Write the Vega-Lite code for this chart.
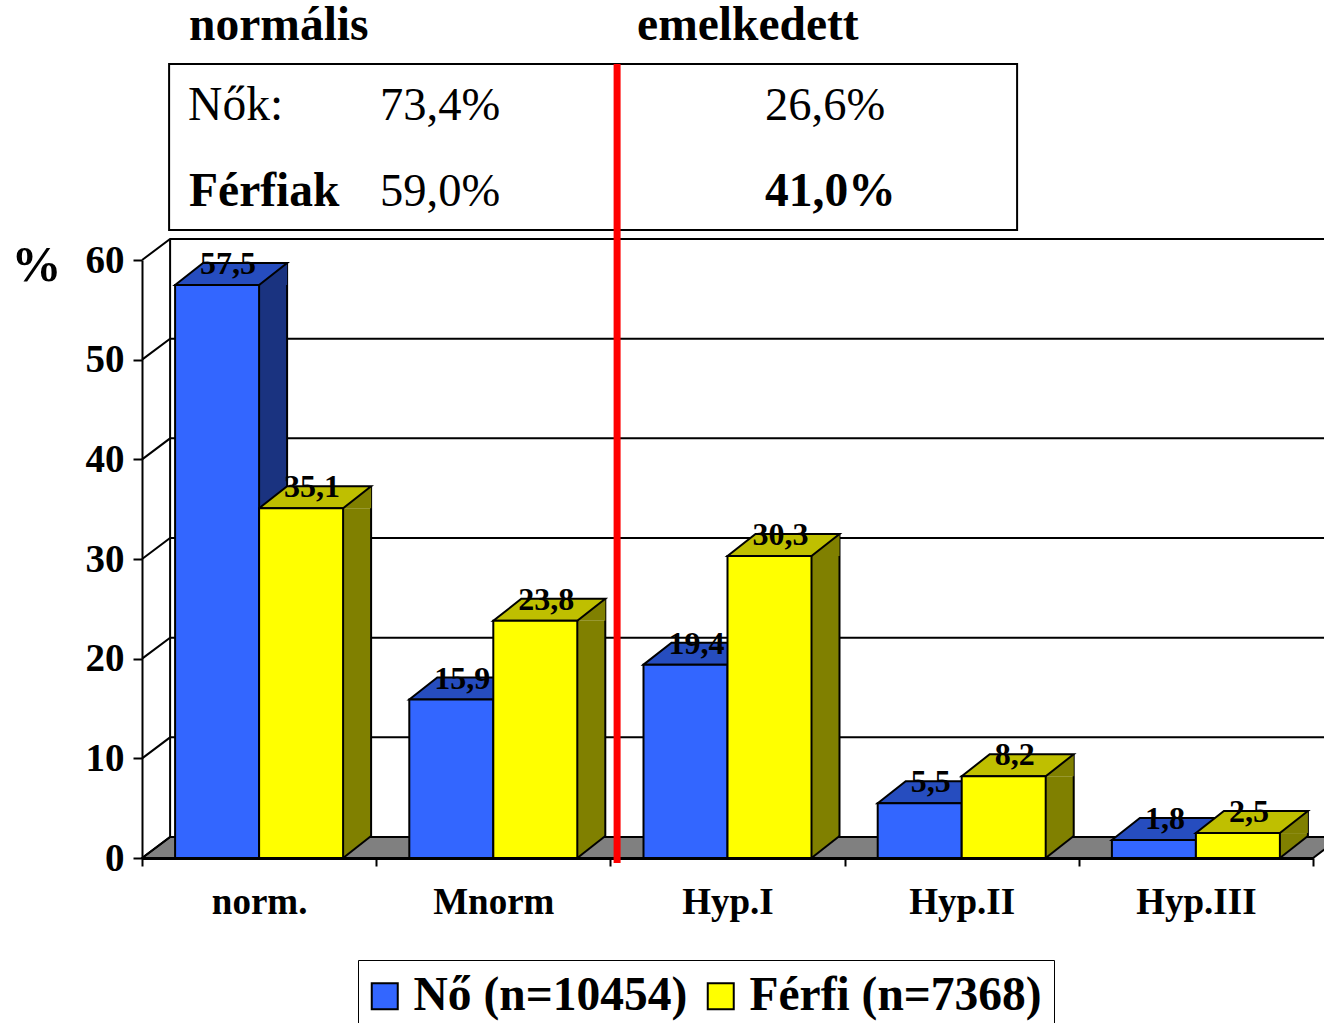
{
"$schema":"https://vega.github.io/schema/vega-lite/v6.json",
"width":1171,"height":598,
"autosize":{"type":"none"},
"padding":{"left":142,"top":260,"right":11,"bottom":165},
"background":"white",
"config":{"font":"Liberation Serif","view":{"stroke":null},"text":{"font":"Liberation Serif","fontSize":47.5,"color":"#000","align":"left","baseline":"middle"}},
"datasets":{
"bars":[
{"cat":"norm.","series":"Nő (n=10454)","value":57.5,"label":"57,5"},
{"cat":"Mnorm","series":"Nő (n=10454)","value":15.9,"label":"15,9"},
{"cat":"Hyp.I","series":"Nő (n=10454)","value":19.4,"label":"19,4"},
{"cat":"Hyp.II","series":"Nő (n=10454)","value":5.5,"label":"5,5"},
{"cat":"Hyp.III","series":"Nő (n=10454)","value":1.8,"label":"1,8"},
{"cat":"norm.","series":"Férfi (n=7368)","value":35.1,"label":"35,1"},
{"cat":"Mnorm","series":"Férfi (n=7368)","value":23.8,"label":"23,8"},
{"cat":"Hyp.I","series":"Férfi (n=7368)","value":30.3,"label":"30,3"},
{"cat":"Hyp.II","series":"Férfi (n=7368)","value":8.2,"label":"8,2"},
{"cat":"Hyp.III","series":"Férfi (n=7368)","value":2.5,"label":"2,5"}
],
"ticks":[{"tick":0},{"tick":10},{"tick":20},{"tick":30},{"tick":40},{"tick":50},{"tick":60}]
},
"resolve":{"scale":{"fill":"independent"}},
"layer":[
{"data":{"values":[{"a":1}]},
 "mark":{"type":"point","filled":true,"opacity":1,"size":4,"fill":"#808080","stroke":"#000","strokeWidth":2,"shape":"M-117,0 L-89,-21 L1082,-21 L1054,0 Z"},
 "encoding":{"x":{"datum":"norm.","type":"nominal"},"y":{"datum":0,"type":"quantitative"}}},
{"data":{"name":"ticks"},
 "mark":{"type":"point","filled":false,"opacity":1,"size":4,"stroke":"#000","strokeWidth":2,"shape":"M-117,0 L-89,-21 L1082,-21"},
 "encoding":{"x":{"datum":"norm.","type":"nominal"},"y":{"field":"tick","type":"quantitative"}}},
{"data":{"values":[{"a":1}]},
 "mark":{"type":"rule","stroke":"#000","strokeWidth":2,"xOffset":-89,"yOffset":-21,"y2Offset":-21},
 "encoding":{"x":{"datum":"norm.","type":"nominal"},"y":{"datum":0,"type":"quantitative"},"y2":{"datum":60}}},
{"data":{"name":"bars"},"transform":[{"filter":"datum.series=='Nő (n=10454)'"}],
 "mark":{"type":"bar","width":29,"fill":"#1A3380","xOffset":14,"y2Offset":-22},
 "encoding":{"x":{"field":"cat","type":"nominal"},"y":{"field":"value","type":"quantitative","stack":null},"y2":{"datum":0}}},
{"data":{"name":"bars"},"transform":[{"filter":"datum.series=='Nő (n=10454)'"}],
 "mark":{"type":"rule","stroke":"#000","strokeWidth":2,"xOffset":28,"yOffset":-22,"y2Offset":-22},
 "encoding":{"x":{"field":"cat","type":"nominal"},"y":{"field":"value","type":"quantitative","stack":null},"y2":{"datum":0}}},
{"data":{"name":"bars"},"transform":[{"filter":"datum.series=='Férfi (n=7368)'"}],
 "mark":{"type":"bar","width":29,"fill":"#808000","xOffset":98,"y2Offset":-22},
 "encoding":{"x":{"field":"cat","type":"nominal"},"y":{"field":"value","type":"quantitative","stack":null},"y2":{"datum":0}}},
{"data":{"name":"bars"},"transform":[{"filter":"datum.series=='Férfi (n=7368)'"}],
 "mark":{"type":"rule","stroke":"#000","strokeWidth":2,"xOffset":112,"yOffset":-22,"y2Offset":-22},
 "encoding":{"x":{"field":"cat","type":"nominal"},"y":{"field":"value","type":"quantitative","stack":null},"y2":{"datum":0}}},
{"data":{"name":"bars"},
 "encoding":{
  "x":{"field":"cat","type":"nominal","scale":{"type":"band","domain":["norm.","Mnorm","Hyp.I","Hyp.II","Hyp.III"],"paddingInner":0,"paddingOuter":0},
       "axis":{"title":null,"labelAngle":0,"labelAlign":"center","labelFontSize":37,"labelFontWeight":"bold","labelColor":"#000","labelPadding":36,"tickBand":"extent","tickSize":8,"tickWidth":2,"tickColor":"#000","domainColor":"#000","domainWidth":3}},
  "xOffset":{"field":"series","type":"nominal","scale":{"domain":["Nő (n=10454)","Férfi (n=7368)"],"paddingInner":0,"paddingOuter":0.394}},
  "y":{"field":"value","type":"quantitative","stack":null,"scale":{"domain":[0,60],"nice":false},
       "axis":{"title":"%","titleAngle":0,"titleX":-106,"titleY":5,"titleFontSize":50,"titleFontWeight":"bold","titleColor":"#000","titleAlign":"center","titleBaseline":"middle","values":[0,10,20,30,40,50,60],"grid":false,"labelFontSize":39,"labelFontWeight":"bold","labelColor":"#000","labelPadding":9,"tickSize":9,"tickWidth":2,"tickColor":"#000","domainColor":"#000","domainWidth":2}}
 },
 "resolve":{"scale":{"fill":"independent"}},
 "layer":[
  {"mark":{"type":"point","filled":true,"opacity":1,"size":4,"shape":"M42,0 L70,-22 L70,0 Z"},
   "encoding":{"fill":{"field":"series","type":"nominal","legend":null,"scale":{"domain":["Nő (n=10454)","Férfi (n=7368)"],"range":["#1A3380","#808000"]}}}},
  {"mark":{"type":"point","filled":true,"opacity":1,"size":4,"shape":"M42,0 L42,-22 L70,-22 Z"},
   "encoding":{"y":{"datum":0,"type":"quantitative"},"fill":{"field":"series","type":"nominal","legend":null,"scale":{"domain":["Nő (n=10454)","Férfi (n=7368)"],"range":["#1A3380","#808000"]}}}},
  {"mark":{"type":"point","filled":false,"opacity":1,"size":4,"stroke":"#000","strokeWidth":2,"shape":"M42,0 L70,-22"},
   "encoding":{"y":{"datum":0,"type":"quantitative"}}},
  {"mark":{"type":"point","filled":true,"opacity":1,"size":4,"stroke":"#000","strokeWidth":2,"shape":"M-42,0 L-14,-22 L70,-22 L42,0 Z"},
   "encoding":{"fill":{"field":"series","type":"nominal","legend":null,"scale":{"domain":["Nő (n=10454)","Férfi (n=7368)"],"range":["#264DBF","#BFBF00"]}}}},
  {"mark":{"type":"bar","stroke":"#000","strokeWidth":2},
   "encoding":{"y2":{"datum":0},"fill":{"field":"series","type":"nominal","scale":{"domain":["Nő (n=10454)","Férfi (n=7368)"],"range":["#3366FF","#FFFF00"]},
     "legend":{"title":null,"orient":"none","legendX":216,"legendY":700,"direction":"horizontal","columns":2,"columnPadding":15,"symbolType":"square","symbolSize":676,"symbolOffset":-9,"symbolStrokeColor":"#000","symbolStrokeWidth":2,"labelFontSize":47.5,"labelFontWeight":"bold","labelColor":"#000","labelOffset":5,"padding":12,"strokeColor":"#000","fillColor":"#fff","labelLimit":400,"symbolOpacity":1}}}},
  {"mark":{"type":"text","fontSize":32,"fontWeight":"bold","align":"center","dx":11,"yOffset":-21},
   "encoding":{"text":{"field":"label"}}}
 ]},
{"data":{"values":[{"a":1}]},
 "mark":{"type":"point","filled":false,"opacity":1,"size":4,"stroke":"#000","strokeWidth":2,"shape":"M-90,-196 L758,-196 L758,-30 L-90,-30 Z"},
 "encoding":{"x":{"datum":"norm.","type":"nominal"},"y":{"datum":60,"type":"quantitative"}}},
{"data":{"values":[{"t":"normális"}]},"mark":{"type":"text","fontWeight":"bold","xOffset":-70,"yOffset":-234},
 "encoding":{"x":{"datum":"norm.","type":"nominal"},"y":{"datum":60,"type":"quantitative"},"text":{"field":"t"}}},
{"data":{"values":[{"t":"emelkedett"}]},"mark":{"type":"text","fontWeight":"bold","xOffset":378,"yOffset":-234},
 "encoding":{"x":{"datum":"norm.","type":"nominal"},"y":{"datum":60,"type":"quantitative"},"text":{"field":"t"}}},
{"data":{"values":[{"t":"Nők:"}]},"mark":{"type":"text","xOffset":-71,"yOffset":-154},
 "encoding":{"x":{"datum":"norm.","type":"nominal"},"y":{"datum":60,"type":"quantitative"},"text":{"field":"t"}}},
{"data":{"values":[{"t":"73,4%"}]},"mark":{"type":"text","fontSize":46.5,"xOffset":121,"yOffset":-154},
 "encoding":{"x":{"datum":"norm.","type":"nominal"},"y":{"datum":60,"type":"quantitative"},"text":{"field":"t"}}},
{"data":{"values":[{"t":"26,6%"}]},"mark":{"type":"text","fontSize":46.5,"xOffset":506,"yOffset":-154},
 "encoding":{"x":{"datum":"norm.","type":"nominal"},"y":{"datum":60,"type":"quantitative"},"text":{"field":"t"}}},
{"data":{"values":[{"t":"Férfiak"}]},"mark":{"type":"text","fontWeight":"bold","xOffset":-70,"yOffset":-68},
 "encoding":{"x":{"datum":"norm.","type":"nominal"},"y":{"datum":60,"type":"quantitative"},"text":{"field":"t"}}},
{"data":{"values":[{"t":"59,0%"}]},"mark":{"type":"text","fontSize":46.5,"xOffset":121,"yOffset":-68},
 "encoding":{"x":{"datum":"norm.","type":"nominal"},"y":{"datum":60,"type":"quantitative"},"text":{"field":"t"}}},
{"data":{"values":[{"t":"41,0%"}]},"mark":{"type":"text","fontWeight":"bold","xOffset":506,"yOffset":-68},
 "encoding":{"x":{"datum":"norm.","type":"nominal"},"y":{"datum":60,"type":"quantitative"},"text":{"field":"t"}}},
{"data":{"values":[{"a":1}]},
 "mark":{"type":"rule","stroke":"#FF0000","strokeWidth":7,"xOffset":358,"yOffset":5,"y2Offset":-196},
 "encoding":{"x":{"datum":"norm.","type":"nominal"},"y":{"datum":0,"type":"quantitative"},"y2":{"datum":60}}}
]
}
